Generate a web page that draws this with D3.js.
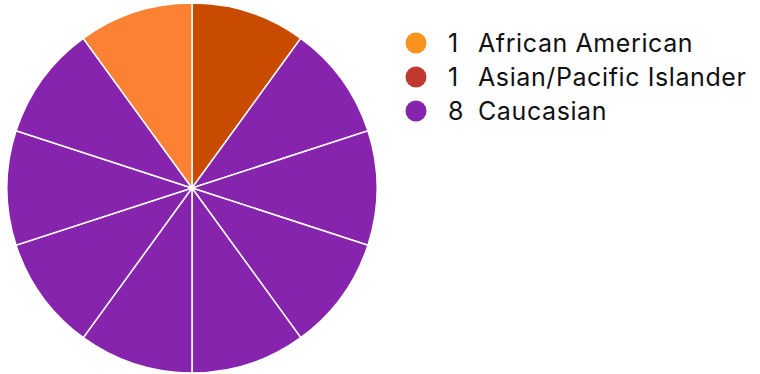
<!DOCTYPE html>
<html>
<head>
  <meta charset="utf-8" />
  <script src="https://d3js.org/d3.v7.min.js"></script>
  <style>
    body { margin: 0; background: #fff; }
    text { font-family: Inter, "Noto Sans", sans-serif; }
  </style>
</head>
<body>
  <div id="chart"></div>
  <script>
    const categories = ["African American", "Asian/Pacific Islander", "Caucasian"];
    const counts = [1, 1, 8];
    const sliceColors = ["#fd8132", "#c84b00", "#8624ad"];
    const legendColors = ["#f7931e", "#c0392f", "#8624ad"];
    // clockwise order of the slices from 12 o'clock
    const sliceOrder = [1, 2, 0];

    const width = 760, height = 374;
    const cx = 192, cy = 188, radius = 185;

    const svg = d3.select("#chart").append("svg")
      .attr("width", width)
      .attr("height", height);

    // one slice per person
    const people = [];
    sliceOrder.forEach(ci => {
      for (let i = 0; i < counts[ci]; i++) people.push(ci);
    });

    const pie = d3.pie().value(1).sort(null);
    const arc = d3.arc().innerRadius(0).outerRadius(radius);

    svg.append("g")
      .attr("transform", `translate(${cx},${cy})`)
      .selectAll("path")
      .data(pie(people))
      .join("path")
      .attr("d", arc)
      .attr("fill", d => sliceColors[d.data])
      .attr("stroke", "#fff")
      .attr("stroke-width", 1.5);

    const y = d3.scaleBand().domain(categories).range([26, 128]);

    const legend = svg.append("g")
      .selectAll("g")
      .data(categories)
      .join("g")
      .attr("transform", d => `translate(0,${y(d) + y.bandwidth() / 2})`);

    legend.append("circle")
      .attr("cx", 416)
      .attr("r", 10.5)
      .attr("fill", (d, i) => legendColors[i]);

    legend.append("text")
      .attr("x", 448)
      .attr("dy", "0.35em")
      .attr("font-size", 25)
      .attr("fill", "#111")
      .text((d, i) => counts[i]);

    legend.append("text")
      .attr("x", 478)
      .attr("dy", "0.35em")
      .attr("font-size", 25)
      .attr("letter-spacing", 0.6)
      .attr("fill", "#111")
      .text(d => d);
  </script>
</body>
</html>
